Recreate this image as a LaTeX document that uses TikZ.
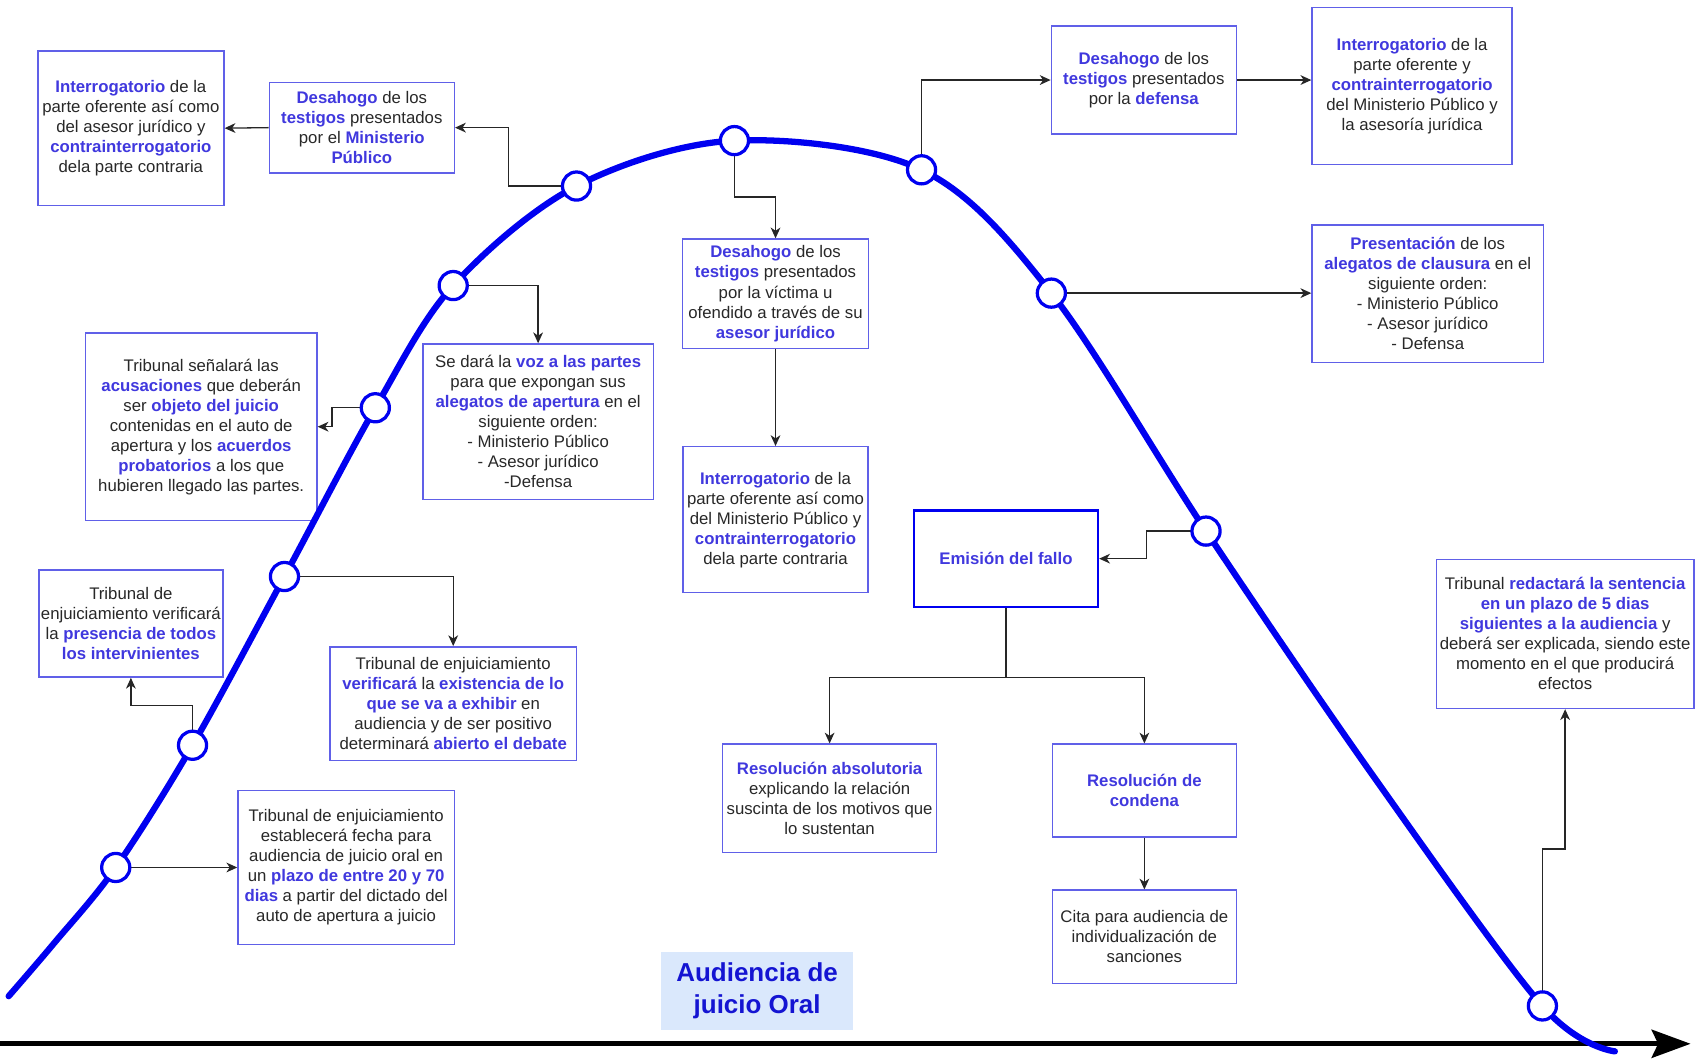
\documentclass[tikz,border=0pt]{standalone}
\usepackage{fontspec}
\setmainfont{Liberation Sans}
\usetikzlibrary{arrows.meta}
\definecolor{hlc}{RGB}{64,56,222}
\definecolor{boxc}{RGB}{96,96,232}
\definecolor{txt}{RGB}{40,40,40}
\definecolor{curvec}{RGB}{0,0,240}
\definecolor{labfill}{RGB}{218,232,252}
\definecolor{labtxt}{RGB}{20,20,210}
\newcommand{\hlt}[1]{{\bfseries\color{hlc}#1}}
\begin{document}
\begin{tikzpicture}[x=1pt,y=-1pt,
  box/.style={draw=boxc, line width=1.3pt, fill=white, inner sep=0pt, align=center, text=txt, font=\fontsize{15.5}{18.5}\selectfont},
  arr/.style={draw=black!85, line width=1.2pt, -{Stealth[length=10pt,width=9pt,inset=3pt]}},
  ln/.style={draw=black!85, line width=1.2pt},
  dot/.style={circle, draw=curvec, line width=3pt, fill=white, minimum size=26pt, inner sep=0pt},
  curve/.style={draw=curvec, line width=5.8pt, line cap=round},
  axisline/.style={draw=black, line width=4.5pt, -{Stealth[length=36pt,width=26pt,inset=6pt]}},
]
\useasboundingbox (0,0) rectangle (1568,980);

% boxes
\node[box, minimum width=172pt, minimum height=143pt] (A1) at (121,118.5) {\hlt{Interrogatorio} de la\\parte oferente así como\\del asesor jurídico y\\\hlt{contrainterrogatorio}\\dela parte contraria};
\node[box, minimum width=171pt, minimum height=84pt] (A2) at (334.5,118) {\hlt{Desahogo} de los\\\hlt{testigos} presentados\\por el \hlt{Ministerio}\\\hlt{Público}};
\node[box, minimum width=214pt, minimum height=173pt] (B1) at (186,394.5) {Tribunal señalará las\\\hlt{acusaciones} que deberán\\ser \hlt{objeto del juicio}\\contenidas en el auto de\\apertura y los \hlt{acuerdos}\\\hlt{probatorios} a los que\\hubieren llegado las partes.};
\node[box, minimum width=213pt, minimum height=144pt] (B2) at (497.5,390) {Se dará la \hlt{voz a las partes}\\para que expongan sus\\\hlt{alegatos de apertura} en el\\siguiente orden:\\- Ministerio Público\\- Asesor jurídico\\-Defensa};
\node[box, minimum width=228pt, minimum height=105pt] (B3) at (419,650.5) {Tribunal de enjuiciamiento\\\hlt{verificará} la \hlt{existencia de lo}\\\hlt{que se va a exhibir} en\\audiencia y de ser positivo\\determinará \hlt{abierto el debate}};
\node[box, minimum width=170pt, minimum height=99pt] (B4) at (121,576.5) {Tribunal de\\enjuiciamiento verificará\\la \hlt{presencia de todos}\\\hlt{los intervinientes}};
\node[box, minimum width=200pt, minimum height=142pt] (B5) at (320,802) {Tribunal de enjuiciamiento\\establecerá fecha para\\audiencia de juicio oral en\\un \hlt{plazo de entre 20 y 70}\\\hlt{dias} a partir del dictado del\\auto de apertura a juicio};
\node[box, minimum width=172pt, minimum height=101pt] (D1) at (717,271.5) {\hlt{Desahogo} de los\\\hlt{testigos} presentados\\por la víctima u\\ofendido a través de su\\\hlt{asesor jurídico}};
\node[box, minimum width=171pt, minimum height=135pt] (D2) at (717,480.5) {\hlt{Interrogatorio} de la\\parte oferente así como\\del Ministerio Público y\\\hlt{contrainterrogatorio}\\dela parte contraria};
\node[box, minimum width=171pt, minimum height=100pt] (E1) at (1057.5,74) {\hlt{Desahogo} de los\\\hlt{testigos} presentados\\por la \hlt{defensa}};
\node[box, minimum width=185pt, minimum height=145pt] (E2) at (1305.5,79.5) {\hlt{Interrogatorio} de la\\parte oferente y\\\hlt{contrainterrogatorio}\\del Ministerio Público y\\la asesoría jurídica};
\node[box, minimum width=214pt, minimum height=127pt] (F1) at (1320,271.5) {\hlt{Presentación} de los\\\hlt{alegatos de clausura} en el\\siguiente orden:\\- Ministerio Público\\- Asesor jurídico\\- Defensa};
\node[box, draw=curvec, line width=2.4pt, minimum width=170pt, minimum height=89pt] (G) at (930,516.5) {\hlt{Emisión del fallo}};
\node[box, minimum width=198pt, minimum height=100pt] (H1) at (767,738) {\hlt{Resolución absolutoria}\\explicando la relación\\suscinta de los motivos que\\lo sustentan};
\node[box, minimum width=170pt, minimum height=86pt] (H2) at (1058,731) {\hlt{Resolución de}\\\hlt{condena}};
\node[box, minimum width=170pt, minimum height=86pt] (H3) at (1058,866) {Cita para audiencia de\\individualización de\\sanciones};
\node[box, minimum width=238pt, minimum height=138pt] (I) at (1447,586) {Tribunal \hlt{redactará la sentencia}\\\hlt{en un plazo de 5 dias}\\\hlt{siguientes a la audiencia} y\\deberá ser explicada, siendo este\\momento en el que producirá\\efectos};

\node[fill=labfill, minimum width=178pt, minimum height=72pt, inner sep=0pt, align=center, text=labtxt, font=\fontsize{24}{30}\selectfont\bfseries] (L) at (700,916) {Audiencia de\\juicio Oral};

% circle anchor coordinates
\coordinate (p1) at (107,802);
\coordinate (p2) at (178,689);
\coordinate (p3) at (263,533);
\coordinate (p4) at (347,377);
\coordinate (p5) at (419,264);
\coordinate (p6) at (533,172);
\coordinate (p7) at (679,130);
\coordinate (p8) at (852,157);
\coordinate (p9) at (972,271);
\coordinate (p10) at (1115,491);
\coordinate (p11) at (1426,930);

% connectors
\draw[arr] (A2.west) -- (A1.east);
\draw[arr] (p6) -- ++(-63,0) |- (A2.east);
\draw[arr] (p5) -| (B2.north);
\draw[arr] (p4) -- ++(-40,0) |- (B1.east);
\draw[arr] (p3) -| (B3.north);
\draw[arr] (p2) -- ++(0,-37) -| (B4.south);
\draw[arr] (p1) -- (B5.west);
\draw[arr] (p7) -- ++(0,52) -| (D1.north);
\draw[arr] (D1.south) -- (D2.north);
\draw[arr] (p8) |- (E1.west);
\draw[arr] (E1.east) -- (E1.east -| E2.west);
\draw[arr] (p9) -- (p9 -| F1.west);
\draw[arr] (p10) -- ++(-55,0) |- (G.east);
\draw[ln] (G.south) -- ++(0,64) coordinate (split);
\draw[arr] (split) -| (H1.north);
\draw[arr] (split) -| (H2.north);
\draw[arr] (H2.south) -- (H3.north);
\draw[arr] (p11) -- ++(0,-145) -| (I.south);

% axis
\coordinate (ax0) at (0,965);
\coordinate (ax1) at (1563,965);
\draw[axisline] (ax0) -- (ax1);

% curve
\draw[curve] plot[smooth, tension=0.55] coordinates {(8,921) (50,872) (107,802) (178,689) (263,533) (347,377) (419,264) (533,172) (679,130) (852,157) (972,271) (1115,491) (1270,718) (1426,930) (1493,972)};

% circles
\foreach \i in {1,...,11} { \node[dot] (c\i) at (p\i) {}; }
\end{tikzpicture}
\end{document}
